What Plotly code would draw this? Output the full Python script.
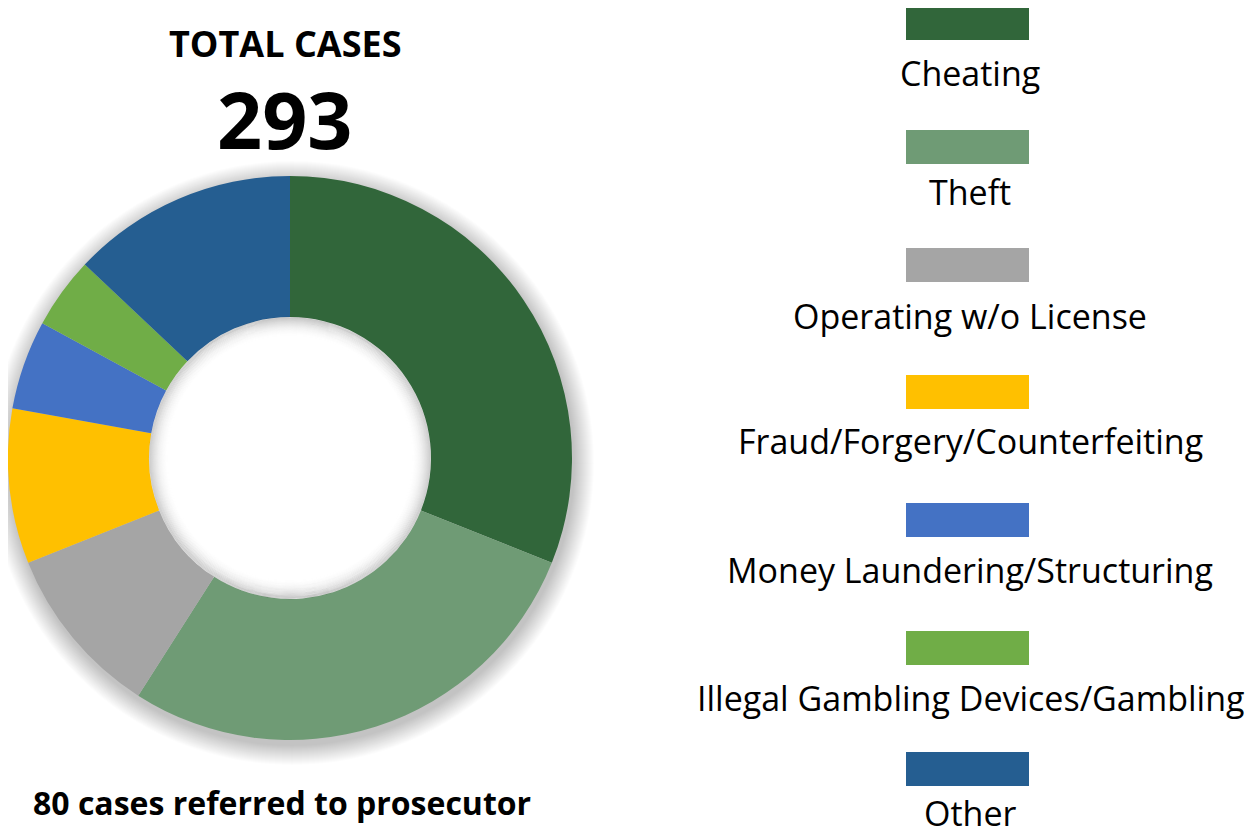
import plotly.graph_objects as go

categories = ["Cheating", "Theft", "Operating w/o License", "Fraud/Forgery/Counterfeiting",
              "Money Laundering/Structuring", "Illegal Gambling Devices/Gambling", "Other"]
cases = [91, 82, 29, 26, 15, 12, 38]
colors = ["#31663A", "#6F9B75", "#A5A5A5", "#FFC000", "#4472C4", "#70AD47", "#255E91"]
total_label = "TOTAL CASES"
total_value = "293"
footnote = "80 cases referred to prosecutor"

W, H = 1253, 835
OFF = 8  # page body margin
def px(x):
    return (x - OFF) / W
def py(y):
    return 1 - (y - OFF) / H

cx, cy, R, r_in = 290, 458, 282, 141
FONT = "Open Sans, Noto Sans, sans-serif"

fig = go.Figure()
fig.add_trace(go.Pie(
    labels=categories, values=cases, hole=r_in / R,
    marker=dict(colors=colors, line=dict(width=0)),
    sort=False, direction="clockwise", rotation=0,
    textinfo="none", hoverinfo="label+value", showlegend=False,
    domain=dict(x=[max(0, px(cx - R)), px(cx + R)], y=[py(cy + R), py(cy - R)]),
))

shapes = []
# soft outer shadow
N_OUT = 20
for k in range(N_OUT, 0, -1):
    rr = R + k
    shapes.append(dict(type="circle", xref="paper", yref="paper", layer="below",
                       x0=px(cx + 2 - rr), x1=px(cx + 2 + rr), y0=py(cy + 5 + rr), y1=py(cy + 5 - rr),
                       fillcolor="rgba(0,0,0,0.013)", line=dict(width=0)))
# keep the hole white
shapes.append(dict(type="circle", xref="paper", yref="paper", layer="below",
                   x0=px(cx - r_in - 2), x1=px(cx + r_in + 2), y0=py(cy + r_in + 2), y1=py(cy - r_in - 2),
                   fillcolor="white", line=dict(width=0)))
# inner shadow in the hole
N_IN = 20
for k in range(0, N_IN):
    rr = r_in - k - 0.5
    a = 0.16 * (1 - k / N_IN) ** 2
    shapes.append(dict(type="circle", xref="paper", yref="paper", layer="above",
                       x0=px(cx - rr), x1=px(cx + rr), y0=py(cy + rr), y1=py(cy - rr),
                       fillcolor="rgba(0,0,0,0)", line=dict(width=1.3, color=f"rgba(0,0,0,{a:.3f})")))

rect_y = [23, 147, 265, 392, 520, 648, 769]
text_y = [73, 192, 316, 441, 570, 698, 813]
annotations = []
for cat, col, ry, ty in zip(categories, colors, rect_y, text_y):
    shapes.append(dict(type="rect", xref="paper", yref="paper",
                       x0=px(906), x1=px(1029), y0=py(ry + 17), y1=py(ry - 17),
                       fillcolor=col, line=dict(width=0)))
    annotations.append(dict(text=cat, x=px(970), y=py(ty), xref="paper", yref="paper",
                            showarrow=False, xanchor="center", yanchor="middle",
                            font=dict(family=FONT, size=34, color="#000000")))

annotations.append(dict(text="<b>" + total_label + "</b>", x=px(285), y=py(43), xref="paper", yref="paper",
                        showarrow=False, xanchor="center", yanchor="middle",
                        font=dict(family=FONT, size=36, color="#000000")))
annotations.append(dict(text="<b>" + total_value + "</b>", x=px(285), y=py(118), xref="paper", yref="paper",
                        showarrow=False, xanchor="center", yanchor="middle",
                        font=dict(family=FONT, size=79, color="#000000")))
annotations.append(dict(text="<b>" + footnote + "</b>", x=px(282), y=py(802), xref="paper", yref="paper",
                        showarrow=False, xanchor="center", yanchor="middle",
                        font=dict(family=FONT, size=32, color="#000000")))

fig.update_layout(width=W, height=H, margin=dict(l=0, r=0, t=0, b=0),
                  paper_bgcolor="white", plot_bgcolor="white",
                  shapes=shapes, annotations=annotations, showlegend=False)

fig.write_html("out.html")
